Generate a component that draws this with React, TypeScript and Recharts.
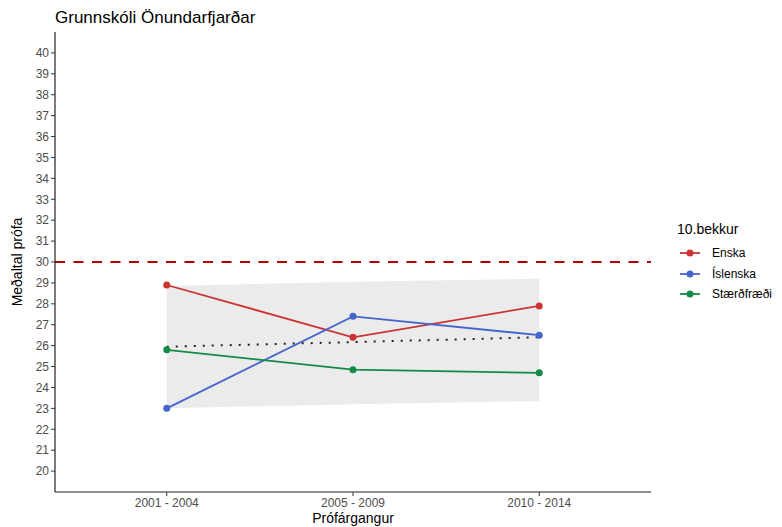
import React from 'react';
import { ComposedChart, Line, Area, XAxis, YAxis, ReferenceLine } from 'recharts';

const periods = ['2001 - 2004', '2005 - 2009', '2010 - 2014'];
const enska = [28.9, 26.4, 27.9];
const islenska = [23.0, 27.4, 26.5];
const staerdfraedi = [25.8, 24.85, 24.7];
const trend = [25.95, 26.17, 26.4];
const bandLow = [23.0, 23.2, 23.35];
const bandHigh = [28.85, 29.05, 29.2];
const yTicks = [20, 21, 22, 23, 24, 25, 26, 27, 28, 29, 30, 31, 32, 33, 34, 35, 36, 37, 38, 39, 40];
const target = 30;

const series = [
  { key: 'enska', name: 'Enska', color: '#CC3333' },
  { key: 'islenska', name: 'Íslenska', color: '#4465CC' },
  { key: 'staerdfraedi', name: 'Stærðfræði', color: '#138A48' },
];

const data = periods.map((p, i) => ({
  x: i + 1,
  enska: enska[i],
  islenska: islenska[i],
  staerdfraedi: staerdfraedi[i],
  trend: trend[i],
  band: [bandLow[i], bandHigh[i]],
}));

const font = '"Liberation Sans", Arial, sans-serif';
const tickStyle = { fill: '#4D4D4D', fontSize: 12, fontFamily: font };

export default function App() {
  return (
    <div style={{ position: 'absolute', left: 0, top: 0, width: 782, height: 527, fontFamily: font }}>
      <ComposedChart width={782} height={527} data={data} margin={{ top: 32, right: 131, bottom: 0, left: 0 }}>
        <XAxis
          dataKey="x"
          type="number"
          domain={[0.4, 3.6]}
          ticks={[1, 2, 3]}
          tickFormatter={(v) => periods[v - 1]}
          height={35}
          axisLine={{ stroke: '#222', strokeWidth: 1.2 }}
          tickLine={{ stroke: '#333' }}
          tickSize={4}
          tickMargin={2}
          tick={tickStyle}
        />
        <YAxis
          type="number"
          domain={[19, 41]}
          ticks={yTicks}
          interval={0}
          width={55}
          axisLine={{ stroke: '#222', strokeWidth: 1.2 }}
          tickLine={{ stroke: '#333' }}
          tickSize={4}
          tickMargin={2}
          tick={tickStyle}
        />
        <Area dataKey="band" stroke="none" fill="#EBEBEB" fillOpacity={1} isAnimationActive={false} />
        <ReferenceLine y={target} stroke="#B00000" strokeWidth={2} strokeDasharray="10 8.5" />
        <Line
          dataKey="trend"
          stroke="#222"
          strokeWidth={2}
          strokeDasharray="2 7"
          dot={false}
          activeDot={false}
          isAnimationActive={false}
        />
        {series.map((s) => (
          <Line
            key={s.key}
            dataKey={s.key}
            stroke={s.color}
            strokeWidth={1.8}
            dot={{ r: 3.5, fill: s.color, stroke: s.color, strokeWidth: 0 }}
            activeDot={false}
            isAnimationActive={false}
          />
        ))}
      </ComposedChart>

      <div style={{ position: 'absolute', left: 55, top: 8, fontSize: 17, color: '#000', whiteSpace: 'nowrap' }}>
        Grunnskóli Önundarfjarðar
      </div>

      <div
        style={{
          position: 'absolute',
          left: 17,
          top: 262,
          transform: 'translate(-50%, -50%) rotate(-90deg)',
          fontSize: 14,
          fontFamily: '"Liberation Sans Narrow", "Liberation Sans", Arial, sans-serif',
          whiteSpace: 'nowrap',
          color: '#000',
        }}
      >
        Meðaltal prófa
      </div>

      <div
        style={{
          position: 'absolute',
          left: 353,
          top: 510,
          transform: 'translateX(-50%)',
          fontSize: 14,
          whiteSpace: 'nowrap',
          color: '#000',
        }}
      >
        Prófárgangur
      </div>

      <div style={{ position: 'absolute', left: 677, top: 221, fontSize: 14, color: '#000' }}>10.bekkur</div>
      {series.map((s, i) => (
        <div
          key={s.key}
          style={{ position: 'absolute', left: 678, top: 243 + i * 20.5, height: 20, display: 'flex', alignItems: 'center' }}
        >
          <svg width={24} height={20}>
            <line x1={2} x2={22} y1={10} y2={10} stroke={s.color} strokeWidth={1.8} />
            <circle cx={12} cy={10} r={3.5} fill={s.color} />
          </svg>
          <span style={{ marginLeft: 10, fontSize: 12, color: '#000' }}>{s.name}</span>
        </div>
      ))}
    </div>
  );
}
